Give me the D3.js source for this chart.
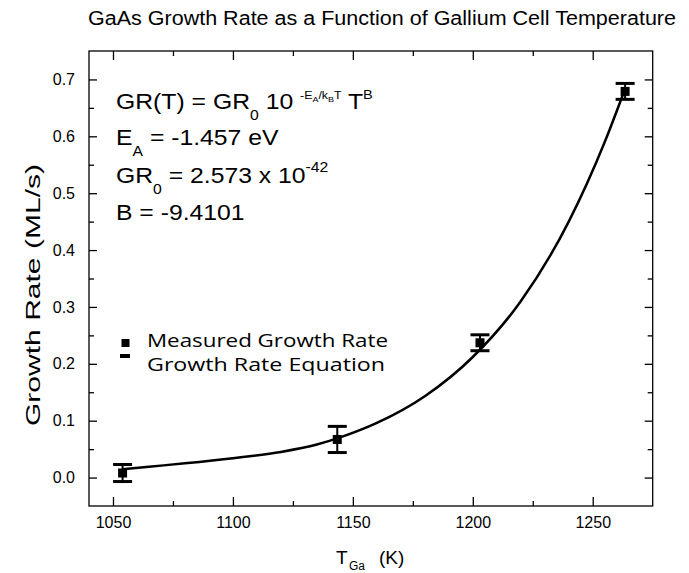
<!DOCTYPE html>
<html>
<head>
<meta charset="utf-8">
<script src="https://cdn.jsdelivr.net/npm/d3@7"></script>
<style>
body { margin: 0; background: #fff; }
text { font-family: "Liberation Sans", Arial, sans-serif; fill: #000; }
.legend text { font-family: "Open Sans", Lato, sans-serif; }
</style>
</head>
<body>
<svg id="chart"></svg>
<script>
// measured points
var tempK      = [1054, 1143.5, 1203, 1263.5];
var growthRate = [0.008, 0.067, 0.237, 0.679];
var growthErr  = [0.015, 0.023, 0.014, 0.014];

// fitted equation curve
var fitT  = [1054, 1065, 1080, 1100, 1120, 1135, 1145, 1160, 1180, 1200, 1220, 1240, 1255, 1263];
var fitGR = [0.0145, 0.019, 0.025, 0.034, 0.045, 0.058, 0.071, 0.096, 0.143, 0.212, 0.310, 0.450, 0.590, 0.678];

var xMajor = [1050, 1100, 1150, 1200, 1250];
var xMinor = [1075, 1125, 1175, 1225];
var yMajor = [0, 0.1, 0.2, 0.3, 0.4, 0.5, 0.6, 0.7];
var yMinor = [0.05, 0.15, 0.25, 0.35, 0.45, 0.55, 0.65];

var W = 689, H = 573;
var L = 89, R = 652.7, T = 51, B = 506;

var svg = d3.select('#chart').attr('width', W).attr('height', H);

var x = d3.scaleLinear().domain([1040, 1275]).range([L, R]);
var y = d3.scaleLinear().domain([-0.05, 0.75]).range([B, T]);

// axes, ticks inward on all sides
function styleAxis(g) {
	g.select('.domain').remove();
	g.selectAll('line').attr('stroke', '#000').attr('stroke-width', 1.3);
	g.selectAll('text').style('font-family', '"Liberation Sans", Arial, sans-serif').style('font-size', '16px').attr('fill', '#000');
}

svg.append('g').attr('transform', 'translate(0,' + B + ')')
	.call(d3.axisBottom(x).tickValues(xMajor).tickSizeInner(-9).tickSizeOuter(0).tickPadding(11).tickFormat(d3.format('d')))
	.call(styleAxis);
svg.append('g').attr('transform', 'translate(0,' + B + ')')
	.call(d3.axisBottom(x).tickValues(xMinor).tickSizeInner(-5).tickSizeOuter(0).tickFormat(''))
	.call(styleAxis);
svg.append('g').attr('transform', 'translate(0,' + T + ')')
	.call(d3.axisTop(x).tickValues(xMajor).tickSizeInner(-9).tickSizeOuter(0).tickFormat(''))
	.call(styleAxis);
svg.append('g').attr('transform', 'translate(0,' + T + ')')
	.call(d3.axisTop(x).tickValues(xMinor).tickSizeInner(-5).tickSizeOuter(0).tickFormat(''))
	.call(styleAxis);

svg.append('g').attr('transform', 'translate(' + L + ',0)')
	.call(d3.axisLeft(y).tickValues(yMajor).tickSizeInner(-8).tickSizeOuter(0).tickPadding(14).tickFormat(d3.format('.1f')))
	.call(styleAxis);
svg.append('g').attr('transform', 'translate(' + L + ',0)')
	.call(d3.axisLeft(y).tickValues(yMinor).tickSizeInner(-5).tickSizeOuter(0).tickFormat(''))
	.call(styleAxis);
svg.append('g').attr('transform', 'translate(' + R + ',0)')
	.call(d3.axisRight(y).tickValues(yMajor).tickSizeInner(-8).tickSizeOuter(0).tickFormat(''))
	.call(styleAxis);
svg.append('g').attr('transform', 'translate(' + R + ',0)')
	.call(d3.axisRight(y).tickValues(yMinor).tickSizeInner(-5).tickSizeOuter(0).tickFormat(''))
	.call(styleAxis);

svg.append('rect')
	.attr('x', L).attr('y', T).attr('width', R - L).attr('height', B - T)
	.attr('fill', 'none').attr('stroke', '#000').attr('stroke-width', 1.3);

// fitted curve
var fit = fitT.map(function(t, i) { return [t, fitGR[i]]; });
svg.append('path')
	.datum(fit)
	.attr('fill', 'none')
	.attr('stroke', '#000')
	.attr('stroke-width', 2.5)
	.attr('d', d3.line().x(function(d) { return x(d[0]); }).y(function(d) { return y(d[1]); }).curve(d3.curveMonotoneX));

// error bars + squares
var pts = tempK.map(function(t, i) { return { t: t, v: growthRate[i], e: growthErr[i] }; });
var pg = svg.append('g').selectAll('g').data(pts).enter().append('g');
pg.append('line')
	.attr('x1', function(d) { return x(d.t); }).attr('x2', function(d) { return x(d.t); })
	.attr('y1', function(d) { return y(d.v - d.e); }).attr('y2', function(d) { return y(d.v + d.e); })
	.attr('stroke', '#000').attr('stroke-width', 2);
[-1, 1].forEach(function(s) {
	pg.append('line')
		.attr('x1', function(d) { return x(d.t) - 9.5; }).attr('x2', function(d) { return x(d.t) + 9.5; })
		.attr('y1', function(d) { return y(d.v + s * d.e); }).attr('y2', function(d) { return y(d.v + s * d.e); })
		.attr('stroke', '#000').attr('stroke-width', 3);
});
pg.append('rect')
	.attr('x', function(d) { return x(d.t) - 4.5; }).attr('y', function(d) { return y(d.v) - 4.5; })
	.attr('width', 9).attr('height', 9).attr('fill', '#000');

// title
svg.append('text').attr('x', 382).attr('y', 25).attr('text-anchor', 'middle')
	.attr('textLength', 588).attr('lengthAdjust', 'spacingAndGlyphs')
	.style('font-size', '19.5px').text('GaAs Growth Rate as a Function of Gallium Cell Temperature');

// axis titles
var xt = svg.append('text').attr('y', 564).style('font-size', '19px');
xt.append('tspan').attr('x', 336).text('T');
xt.append('tspan').attr('x', 349).attr('dy', 6).style('font-size', '12px').text('Ga');
xt.append('tspan').attr('x', 379).attr('dy', -6).text('(K)');

svg.append('text').attr('transform', 'translate(40,295) rotate(-90)')
	.attr('text-anchor', 'middle').attr('textLength', 262).attr('lengthAdjust', 'spacingAndGlyphs')
	.style('font-size', '20px').text('Growth Rate (ML/s)');

// equation block, slightly wide lettering as in the figure
var eq = svg.append('g').style('font-size', '22px')
	.attr('transform', 'translate(116,0) scale(1.125,1) translate(-116,0)');
var l1 = eq.append('text').attr('x', 116).attr('y', 109);
l1.append('tspan').text('GR(T) = GR');
l1.append('tspan').attr('dy', 11).style('font-size', '14px').text('0');
l1.append('tspan').attr('dy', -11).text(' 10 ');
l1.append('tspan').attr('dy', -10).style('font-size', '11px').text('-E');
l1.append('tspan').attr('dy', 3).style('font-size', '8px').text('A');
l1.append('tspan').attr('dy', -3).style('font-size', '11px').text('/k');
l1.append('tspan').attr('dy', 3).style('font-size', '8px').text('B');
l1.append('tspan').attr('dy', -3).style('font-size', '11px').text('T');
l1.append('tspan').attr('dy', 10).text(' T');
l1.append('tspan').attr('dy', -10).style('font-size', '13px').text('B');

var l2 = eq.append('text').attr('x', 116).attr('y', 145);
l2.append('tspan').text('E');
l2.append('tspan').attr('dy', 11).style('font-size', '14px').text('A');
l2.append('tspan').attr('dy', -11).text(' = -1.457 eV');

var l3 = eq.append('text').attr('x', 116).attr('y', 183);
l3.append('tspan').text('GR');
l3.append('tspan').attr('dy', 11).style('font-size', '14px').text('0');
l3.append('tspan').attr('dy', -11).text(' = 2.573 x 10');
l3.append('tspan').attr('dy', -11).style('font-size', '14px').text('-42');

eq.append('text').attr('x', 116).attr('y', 220).text('B = -9.4101');

// legend
var lg = svg.append('g').attr('class', 'legend').style('font-size', '18px');
lg.append('rect').attr('x', 121.5).attr('y', 339).attr('width', 8).attr('height', 8).attr('fill', '#000');
lg.append('text').attr('x', 147).attr('y', 347).attr('textLength', 241).attr('lengthAdjust', 'spacingAndGlyphs').text('Measured Growth Rate');
lg.append('line').attr('x1', 120).attr('x2', 130).attr('y1', 356).attr('y2', 356).attr('stroke', '#000').attr('stroke-width', 4);
lg.append('text').attr('x', 147).attr('y', 370.5).attr('textLength', 238).attr('lengthAdjust', 'spacingAndGlyphs').text('Growth Rate Equation');
</script>
</body>
</html>
